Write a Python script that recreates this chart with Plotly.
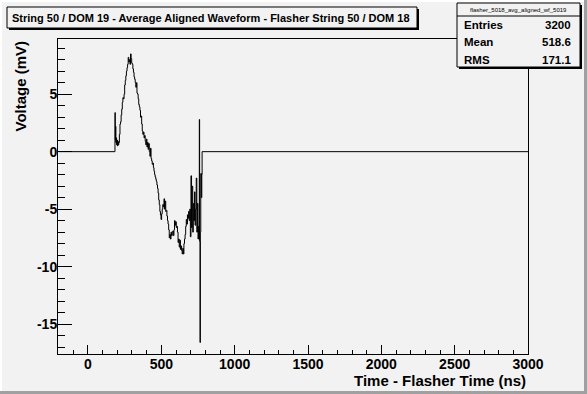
import plotly.graph_objects as go

# ---- data ----
time_ns = [-200, 183, 184, 186, 188, 190, 192, 195, 198, 201, 204, 207, 210, 214, 218, 222, 226, 230,
           234, 238, 242, 246, 250, 254, 258, 262, 266, 270, 274, 278, 282, 286, 290, 294, 298, 302,
           306, 310, 314, 318, 322, 326, 330, 334, 338, 342, 346, 350, 354, 358, 362, 366, 370, 374,
           378, 382, 386, 390, 394, 398, 402, 406, 410, 414, 418, 422, 426, 430, 434, 438, 442, 446,
           450, 454, 458, 462, 466, 470, 474, 478, 482, 486, 490, 494, 498, 502, 506, 510, 514, 518,
           522, 526, 530, 534, 538, 542, 546, 550, 554, 558, 562, 566, 570, 574, 578, 582, 586, 590,
           594, 598, 602, 606, 610, 614, 618, 622, 626, 630, 634, 638, 642, 646, 650, 654, 658, 662,
           666, 670, 674, 678, 682, 686, 690, 694, 698, 702, 706, 710, 714, 718, 722, 726, 730, 734,
           738, 742, 746, 750, 754, 757, 759, 761, 764, 766, 769, 773, 776, 778, 3000]
voltage_mv = [0, 0, 3.4, 1.0, 2.2, 0.8, 1.2, 0.6, 1.0, 0.5, 0.9, 0.6, 0.8, 1.5, 2.4, 2.6, 3.2, 3.7,
              4.3, 4.7, 4.6, 5.0, 5.8, 6.2, 6.6, 7.0, 7.3, 7.6, 8.2, 7.8, 8.0, 7.6, 8.5, 8.1, 7.7, 7.6,
              7.2, 6.9, 6.5, 6.3, 6.0, 5.6, 6.0, 5.1, 5.0, 4.6, 4.1, 3.9, 3.6, 3.0, 3.1, 2.4, 1.8, 1.5,
              1.7, 1.2, 1.4, 0.9, 0.6, 1.1, 0.4, 0.8, 0.2, 0.7, 0.0, -0.4, 0.3, -0.6, -0.8, -1.1, -1.0, -1.4,
              -1.7, -2.0, -2.2, -2.4, -2.6, -2.9, -3.2, -3.6, -4.2, -4.6, -5.2, -5.5, -5.9, -5.4, -5.0, -4.6, -4.8, -4.1,
              -5.0, -4.3, -5.2, -5.1, -5.6, -6.0, -6.3, -6.8, -7.5, -7.2, -7.6, -7.0, -7.3, -7.1, -6.9, -7.3, -6.8, -6.0,
              -6.4, -6.1, -6.6, -6.5, -7.0, -7.9, -7.6, -8.3, -7.7, -8.5, -8.2, -8.6, -8.9, -8.4, -8.9, -8.0, -7.6, -7.2,
              -6.5, -5.9, -6.3, -5.5, -5.8, -5.2, -6.0, -5.0, -7.4, -2.1, -6.6, -3.0, -7.0, -4.5, -6.0, -3.5, -6.4, -5.0,
              -2.3, -7.0, -4.5, -7.6, -6.5, -7.6, 2.8, -7.8, -16.6, -7.0, -1.9, -4.0, -2.0, 0.0, 0.0]

x_ticks = [0, 500, 1000, 1500, 2000, 2500, 3000]
x_tick_labels = ["0", "500", "1000", "1500", "2000", "2500", "3000"]
y_ticks = [-15, -10, -5, 0, 5]
y_tick_labels = ["-15", "-10", "-5", "0", "5"]

title_text = "String 50 / DOM 19 - Average Aligned Waveform - Flasher String 50 / DOM 18"
stats_name = "flasher_5018_avg_aligned_wf_5019"
stats_labels = ["Entries", "Mean", "RMS"]
stats_values = ["3200", "518.6", "171.1"]

# ---- layout geometry (pixels) ----
W, H = 587, 394
L, R, T, B = 58, 528, 39, 354
BG = "#f2f2f2"
FONT = "Liberation Sans"


def px(xp):
    return (xp - L) / (R - L)


def py(yp):
    return (B - yp) / (B - T)


fig = go.Figure()
fig.add_trace(go.Scatter(x=time_ns, y=voltage_mv, mode="lines",
                         line=dict(color="black", width=1, shape="hv"),
                         hoverinfo="skip", showlegend=False))

axis_common = dict(showline=True, linecolor="black", linewidth=1, mirror=True,
                   showgrid=False, zeroline=False, ticks="inside", tickcolor="black",
                   tickwidth=1, tickfont=dict(family=FONT, size=14, color="black", weight="bold"))

fig.update_xaxes(range=[-204.5, 3000], tickmode="array", tickvals=x_ticks, ticktext=x_tick_labels,
                 ticklen=9, ticklabelstandoff=-3,
                 minor=dict(ticks="inside", dtick=100, tick0=0, ticklen=4.5,
                            tickcolor="black", tickwidth=1),
                 **axis_common)
fig.update_yaxes(range=[-17.6, 9.8], tickmode="array", tickvals=y_ticks, ticktext=y_tick_labels,
                 ticklen=14, ticklabelstandoff=-3,
                 minor=dict(ticks="inside", dtick=1, tick0=0, ticklen=7,
                            tickcolor="black", tickwidth=1),
                 **axis_common)

shapes = []
# canvas bevel border
shapes.append(dict(type="rect", xref="paper", yref="paper", x0=px(0), x1=px(W), y0=py(391), y1=py(H),
                   line=dict(width=0), fillcolor="#a0a0a0", layer="below"))
shapes.append(dict(type="rect", xref="paper", yref="paper", x0=px(584), x1=px(W), y0=py(0), y1=py(H),
                   line=dict(width=0), fillcolor="#a0a0a0", layer="below"))
shapes.append(dict(type="rect", xref="paper", yref="paper", x0=px(0), x1=px(584), y0=py(0), y1=py(2),
                   line=dict(width=0), fillcolor="white", layer="below"))
shapes.append(dict(type="rect", xref="paper", yref="paper", x0=px(0), x1=px(2), y0=py(0), y1=py(391),
                   line=dict(width=0), fillcolor="white", layer="below"))

# title box with shadow
shapes.append(dict(type="rect", xref="paper", yref="paper", x0=px(9), x1=px(419), y0=py(30), y1=py(9),
                   line=dict(width=0), fillcolor="black"))
shapes.append(dict(type="rect", xref="paper", yref="paper", x0=px(7), x1=px(417), y0=py(28), y1=py(7),
                   line=dict(color="black", width=1), fillcolor=BG))
# stats box with shadow
shapes.append(dict(type="rect", xref="paper", yref="paper", x0=px(459), x1=px(582), y0=py(69), y1=py(5),
                   line=dict(width=0), fillcolor="black"))
shapes.append(dict(type="rect", xref="paper", yref="paper", x0=px(457), x1=px(580), y0=py(67), y1=py(3),
                   line=dict(color="black", width=1), fillcolor=BG))
shapes.append(dict(type="line", xref="paper", yref="paper", x0=px(457), x1=px(580), y0=py(16), y1=py(16),
                   line=dict(color="black", width=1)))

annotations = []
annotations.append(dict(text=title_text, xref="paper", yref="paper", x=px(211), y=py(17.5),
                        xanchor="center", yanchor="middle", showarrow=False,
                        font=dict(family=FONT, size=11, color="black", weight="bold")))
annotations.append(dict(text=stats_name, xref="paper", yref="paper", x=px(518.5), y=py(9.5),
                        xanchor="center", yanchor="middle", showarrow=False,
                        font=dict(family=FONT, size=6, color="black")))
row_y = [25, 42.5, 60]
for lab, val, yy in zip(stats_labels, stats_values, row_y):
    annotations.append(dict(text=lab, xref="paper", yref="paper", x=px(462), y=py(yy),
                            xanchor="left", yanchor="middle", showarrow=False,
                            font=dict(family=FONT, size=11.5, color="black", weight="bold")))
    annotations.append(dict(text=val, xref="paper", yref="paper", x=px(573), y=py(yy),
                            xanchor="right", yanchor="middle", showarrow=False,
                            font=dict(family=FONT, size=11.5, color="black", weight="bold")))
# axis titles
annotations.append(dict(text="Time - Flasher Time (ns)", xref="paper", yref="paper", x=px(528), y=py(380),
                        xanchor="right", yanchor="middle", showarrow=False,
                        font=dict(family=FONT, size=15, color="black", weight="bold")))
annotations.append(dict(text="Voltage (mV)", xref="paper", yref="paper", x=px(20), y=py(39),
                        xanchor="center", yanchor="top", textangle=-90, showarrow=False,
                        font=dict(family=FONT, size=15, color="black", weight="bold")))

fig.update_layout(width=W, height=H, margin=dict(l=L, r=W - R, t=T, b=H - B, pad=0),
                  paper_bgcolor=BG, plot_bgcolor=BG, shapes=shapes, annotations=annotations,
                  showlegend=False, font=dict(family=FONT))

fig.write_html("out.html", config={"displayModeBar": False},
               post_script="document.body.style.margin='0';document.body.style.overflow='hidden';")
